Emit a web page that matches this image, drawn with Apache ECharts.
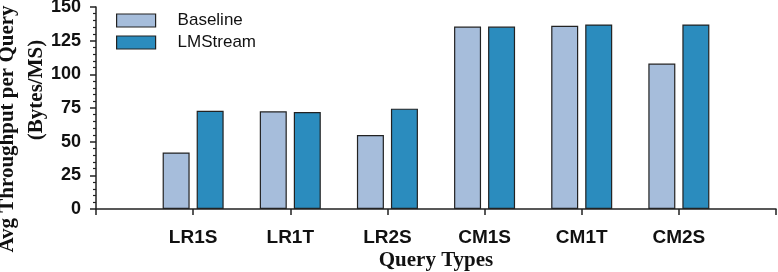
<!DOCTYPE html>
<html>
<head>
<meta charset="utf-8">
<script src="https://cdn.jsdelivr.net/npm/echarts@6/dist/echarts.min.js"></script>
<style>
html,body{margin:0;padding:0;background:#fff;}
#chart{width:778px;height:272px;}
</style>
</head>
<body>
<div id="chart"></div>
<script>
var categories = ['LR1S', 'LR1T', 'LR2S', 'CM1S', 'CM1T', 'CM2S'];
var baseline = [42, 72.5, 55, 135.5, 136, 108];
var lmstream = [73, 72, 74.5, 135.5, 137, 137];
var yTicks = [0, 25, 50, 75, 100, 125, 150];

var cats = [''].concat(categories, ['']);
var pad = function (arr) { return ['-'].concat(arr, ['-']); };

var chart = echarts.init(document.getElementById('chart'), null, {renderer: 'canvas'});
var serif = '"Liberation Serif", "Times New Roman", serif';
var sans = '"Liberation Sans", Arial, Helvetica, sans-serif';

chart.setOption({
  animation: false,
  backgroundColor: '#ffffff',
  grid: {left: 96, right: 2, top: 7, bottom: 63, containLabel: false, outerBoundsMode: 'none'},
  legend: {
    orient: 'vertical',
    left: 111,
    top: 7,
    itemWidth: 39,
    itemHeight: 13,
    itemGap: 5,
    icon: 'rect',
    textStyle: {fontFamily: sans, fontSize: 17, color: '#111', padding: [0, 0, 0, 17]},
    data: [
      {name: 'Baseline', itemStyle: {color: '#a6bddb', borderColor: '#222', borderWidth: 1.2}},
      {name: 'LMStream', itemStyle: {color: '#2b8cbe', borderColor: '#222', borderWidth: 1.2}}
    ]
  },
  xAxis: {
    type: 'category',
    data: cats,
    boundaryGap: false,
    axisLine: {lineStyle: {color: '#222', width: 1.5}},
    axisTick: {show: true, length: 6, interval: 0, lineStyle: {color: '#222', width: 1.5}},
    axisLabel: {interval: 0, margin: 19, fontFamily: sans, fontWeight: 'bold', fontSize: 19, color: '#111'},
    splitLine: {show: false},
    name: 'Query Types',
    nameLocation: 'middle',
    nameGap: 41,
    nameMoveOverlap: false,
    nameTextStyle: {fontFamily: serif, fontWeight: 'bold', fontSize: 21, color: '#111'}
  },
  yAxis: {
    type: 'value',
    min: 0,
    max: 150,
    interval: 25,
    axisLine: {show: true, lineStyle: {color: '#222', width: 1.5}},
    axisTick: {show: true, length: 6, lineStyle: {color: '#222', width: 1.5}},
    minorTick: {show: true, splitNumber: 5, length: 3, lineStyle: {color: '#222', width: 1.2}},
    axisLabel: {margin: 15, fontFamily: sans, fontWeight: 'bold', fontSize: 18, color: '#111',
      formatter: function (v) { return yTicks.indexOf(v) >= 0 ? String(v) : ''; }},
    splitLine: {show: false}
  },
  graphic: [
    {type: 'text', x: 8, y: 129, rotation: Math.PI / 2,
      style: {text: 'Avg Throughput per Query', font: 'bold 21px ' + serif, fill: '#111', align: 'center', verticalAlign: 'middle'}},
    {type: 'text', x: 37, y: 90, rotation: Math.PI / 2,
      style: {text: '(Bytes/MS)', font: 'bold 21px ' + serif, fill: '#111', align: 'center', verticalAlign: 'middle'}}
  ],
  series: [
    {name: 'Baseline', type: 'bar', data: pad(baseline), barWidth: 27, barGap: '26%',
      itemStyle: {color: '#a6bddb', borderColor: '#222', borderWidth: 1.2}},
    {name: 'LMStream', type: 'bar', data: pad(lmstream), barWidth: 27, barGap: '26%',
      itemStyle: {color: '#2b8cbe', borderColor: '#222', borderWidth: 1.2}}
  ]
});
</script>
</body>
</html>
